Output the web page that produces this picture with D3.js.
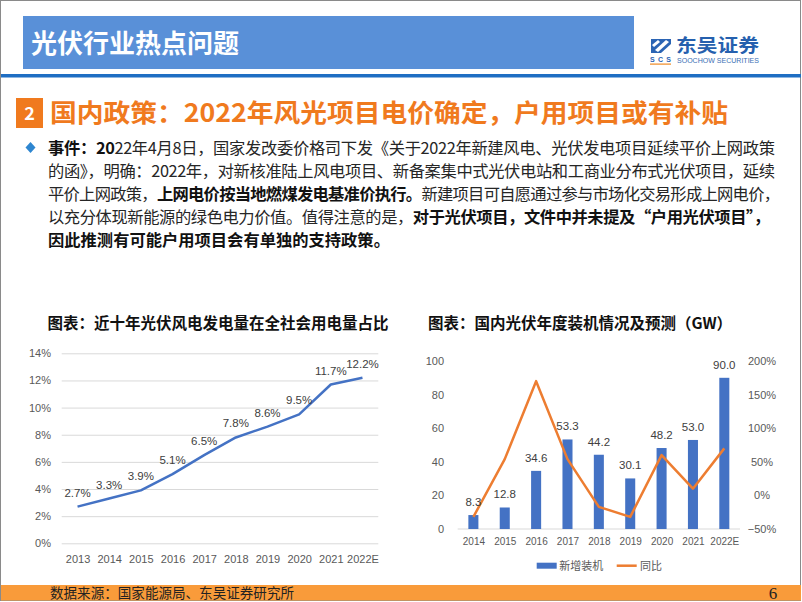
<!DOCTYPE html>
<html><head><meta charset="utf-8">
<script src="https://cdn.jsdelivr.net/npm/d3@7"></script>
<style>
html,body{margin:0;padding:0;background:#fff;}
svg{display:block;font-family:"Noto Sans CJK SC","Noto Sans",sans-serif;}
</style></head>
<body>
<svg id="c" width="802" height="602"></svg>
<script>
// ---------- data ----------
const headerTitle = "光伏行业热点问题";
const sectionNo = "2";
const sectionTitle = "国内政策：2022年风光项目电价确定，户用项目或有补贴";
const bodyLines = [
  [["事件：20", true], ["22年4月8日，国家发改委价格司下发《关于2022年新建风电、光伏发电项目延续平价上网政策", false]],
  [["的函》，明确：2022年，对新核准陆上风电项目、新备案集中式光伏电站和工商业分布式光伏项目，延续", false]],
  [["平价上网政策，", false], ["上网电价按当地燃煤发电基准价执行。", true], ["新建项目可自愿通过参与市场化交易形成上网电价，", false]],
  [["以充分体现新能源的绿色电力价值。值得注意的是，", false], ["对于光伏项目，文件中并未提及“户用光伏项目”，", true]],
  [["因此推测有可能户用项目会有单独的支持政策。", true]]
];
const bodyLineLengths = [727, 727, 732, 722, null];

const leftTitle = "图表：近十年光伏风电发电量在全社会用电量占比";
const leftYears = ["2013","2014","2015","2016","2017","2018","2019","2020","2021","2022E"];
const leftShare = [0.027,0.033,0.039,0.051,0.065,0.078,0.086,0.095,0.117,0.122];
const leftTicks = [0,0.02,0.04,0.06,0.08,0.10,0.12,0.14];

const rightTitle = "图表：国内光伏年度装机情况及预测（GW）";
const rightYears = ["2014","2015","2016","2017","2018","2019","2020","2021","2022E"];
const rightInstall = [8.3,12.8,34.6,53.3,44.2,30.1,48.2,53.0,90.0];
const rightYoY = [-0.32,0.54,1.70,0.54,-0.17,-0.32,0.60,0.10,0.70];
const rightLeftTicks = [0,20,40,60,80,100];
const rightRightTicks = [-0.5,0,0.5,1.0,1.5,2.0];
const legendNames = ["新增装机","同比"];

const sourceText = "数据来源：国家能源局、东吴证券研究所";
const pageNo = "6";

// ---------- drawing ----------
const svg = d3.select("#c");
const BLUE = "#4472C4", ORANGE = "#ED7D31", GRAY = "#595959";

// page border
svg.append("rect").attr("x",0.5).attr("y",0.5).attr("width",800).attr("height",600)
  .attr("fill","#fff").attr("stroke","#8a8a8a").attr("stroke-width",1);

// header
svg.append("rect").attr("x",23).attr("y",16).attr("width",611).attr("height",53).attr("fill","#5990D8");
svg.append("text").attr("x",31).attr("y",53).attr("fill","#fff").attr("font-size",26)
  .attr("font-weight","bold").text(headerTitle);
svg.append("rect").attr("x",1).attr("y",74).attr("width",800).attr("height",3.5).attr("fill","#1F6EC3");

// logo
const logo = svg.append("g");
logo.append("path").attr("d","M651,39 L671,39 L671,44 L661,53 L651,53 Z").attr("fill","#2B64B4");
logo.append("path").attr("d","M655,50 L666,40 L669,42 L658,52 Z").attr("fill","#fff");
logo.append("path").attr("d","M652,45 L658,40 L660,42 L654,47 Z").attr("fill","#fff");
logo.append("text").attr("x",650).attr("y",62).attr("font-size",7).attr("font-weight","bold")
  .attr("fill","#2B64B4").attr("font-family","Liberation Sans, Arial").attr("textLength",21).text("SCS");
logo.append("rect").attr("x",650).attr("y",63.5).attr("width",21).attr("height",1.2).attr("fill","#F08A24");
logo.append("text").attr("x",676).attr("y",51.5).attr("font-size",18).attr("font-weight","bold")
  .attr("fill","#2560AE").attr("textLength",83).attr("lengthAdjust","spacingAndGlyphs").text("东吴证券");
logo.append("text").attr("x",677).attr("y",63).attr("font-size",7).attr("fill","#3A6FB5")
  .attr("font-family","Liberation Sans, Arial").attr("textLength",82).attr("lengthAdjust","spacingAndGlyphs")
  .text("SOOCHOW SECURITIES");

// section title
svg.append("rect").attr("x",16).attr("y",98).attr("width",27).attr("height",30).attr("fill","#F07A1E");
svg.append("text").attr("x",29.5).attr("y",120).attr("text-anchor","middle").attr("fill","#fff")
  .attr("font-size",18).attr("font-weight","bold").text(sectionNo);
svg.append("text").attr("x",50).attr("y",122).attr("fill","#F07A1E").attr("font-size",25.5)
  .attr("font-weight","bold").attr("textLength",678).attr("lengthAdjust","spacingAndGlyphs").text(sectionTitle);

// body text
svg.append("path").attr("d","M30.5,142 L35.5,147.5 L30.5,153 L25.5,147.5 Z").attr("fill","#2E86D0");
bodyLines.forEach((segs,i)=>{
  const t = svg.append("text").attr("x",48).attr("y",154 + i*23).attr("font-size",16.3).attr("fill","#262626");
  if (bodyLineLengths[i]) t.attr("textLength",bodyLineLengths[i]).attr("lengthAdjust","spacing");
  segs.forEach(s=>{
    t.append("tspan").attr("font-weight", s[1] ? "bold" : "normal").attr("fill", s[1] ? "#111" : "#262626").text(s[0]);
  });
});

// ---------- left chart ----------
svg.append("text").attr("x",218).attr("y",329).attr("text-anchor","middle").attr("font-size",15.5)
  .attr("font-weight","bold").attr("fill","#111").text(leftTitle);

const xL = d3.scalePoint().domain(leftYears).range([61.7,378.3]).padding(0.5);
const yL = d3.scaleLinear().domain([0,0.14]).range([543.3,353.3]);

const gyL = svg.append("g").attr("transform","translate(61.7,0)")
  .call(d3.axisLeft(yL).tickValues(leftTicks).tickFormat(d3.format(".0%")).tickSize(-(378.3-61.7)).tickPadding(10.7));
gyL.select(".domain").remove();
gyL.selectAll("line").attr("stroke","#D9D9D9").attr("stroke-width",1);
gyL.selectAll("text").attr("fill",GRAY).attr("font-size",11).attr("font-family","Liberation Sans, Arial");

const gxL = svg.append("g").attr("transform","translate(0,543.3)")
  .call(d3.axisBottom(xL).tickSize(0));
gxL.select(".domain").remove();
gxL.selectAll("text").attr("y",16).attr("dy","0.35em").attr("fill",GRAY).attr("font-size",11)
  .attr("font-family","Liberation Sans, Arial");

const lineL = d3.line().x((d,i)=>xL(leftYears[i])).y(d=>yL(d));
svg.append("path").datum(leftShare).attr("d",lineL).attr("fill","none").attr("stroke",BLUE)
  .attr("stroke-width",2.5).attr("stroke-linejoin","round");
svg.append("g").selectAll("text").data(leftShare).join("text")
  .attr("x",(d,i)=>xL(leftYears[i])).attr("y",d=>yL(d)-10).attr("text-anchor","middle")
  .attr("font-size",11.5).attr("fill","#404040").attr("font-family","Liberation Sans, Arial")
  .text(d=>d3.format(".1%")(d));

// ---------- right chart ----------
svg.append("text").attr("x",580).attr("y",329).attr("text-anchor","middle").attr("font-size",15.5)
  .attr("font-weight","bold").attr("fill","#111").text(rightTitle);

const xR = d3.scalePoint().domain(rightYears).range([457.7,740]).padding(0.5);
const yR = d3.scaleLinear().domain([0,100]).range([529,361]);
const yR2 = d3.scaleLinear().domain([-0.5,2]).range([529,361]);
const barW = xR.step()*0.32;

const gyR = svg.append("g").attr("transform","translate(457.7,0)")
  .call(d3.axisLeft(yR).tickValues(rightLeftTicks).tickSize(0).tickPadding(13.7));
gyR.select(".domain").remove();
gyR.selectAll("text").attr("fill",GRAY).attr("font-size",11).attr("font-family","Liberation Sans, Arial");

const gyR2 = svg.append("g").attr("transform","translate(740,0)")
  .call(d3.axisRight(yR2).tickValues(rightRightTicks).tickFormat(d3.format(".0%")).tickSize(0));
gyR2.select(".domain").remove();
gyR2.selectAll("text").attr("x",22).attr("text-anchor","middle").attr("fill",GRAY).attr("font-size",11)
  .attr("font-family","Liberation Sans, Arial");

svg.append("line").attr("x1",457.7).attr("x2",740).attr("y1",yR(0)).attr("y2",yR(0))
  .attr("stroke","#D9D9D9").attr("stroke-width",1);

const gxR = svg.append("g").attr("transform","translate(0,529)").call(d3.axisBottom(xR).tickSize(0));
gxR.select(".domain").remove();
gxR.selectAll("text").attr("y",12.7).attr("dy","0.35em").attr("fill",GRAY).attr("font-size",10)
  .attr("font-family","Liberation Sans, Arial");

svg.append("g").selectAll("rect").data(rightInstall).join("rect")
  .attr("x",(d,i)=>xR(rightYears[i])-barW/2).attr("width",barW)
  .attr("y",d=>yR(d)).attr("height",d=>yR(0)-yR(d)).attr("fill",BLUE);

const lineR = d3.line().x((d,i)=>xR(rightYears[i])).y(d=>yR2(d));
svg.append("path").datum(rightYoY).attr("d",lineR).attr("fill","none").attr("stroke",ORANGE)
  .attr("stroke-width",2.5).attr("stroke-linejoin","round");

svg.append("g").selectAll("text").data(rightInstall).join("text")
  .attr("x",(d,i)=>xR(rightYears[i])).attr("y",d=>yR(d)-9).attr("text-anchor","middle")
  .attr("font-size",11.5).attr("fill","#404040").attr("font-family","Liberation Sans, Arial")
  .text(d=>d3.format(".1f")(d));

// legend
svg.append("rect").attr("x",536.7).attr("y",562.7).attr("width",20).attr("height",6).attr("fill",BLUE);
svg.append("text").attr("x",559.3).attr("y",565.7).attr("dy","0.35em").attr("font-size",11).attr("fill",GRAY).text(legendNames[0]);
svg.append("line").attr("x1",616.7).attr("x2",636.7).attr("y1",565.7).attr("y2",565.7).attr("stroke",ORANGE).attr("stroke-width",2.5);
svg.append("text").attr("x",640).attr("y",565.7).attr("dy","0.35em").attr("font-size",11).attr("fill",GRAY).text(legendNames[1]);

// footer
svg.append("rect").attr("x",1).attr("y",585).attr("width",800).attr("height",15.5).attr("fill","#F99B3A");
svg.append("text").attr("x",50).attr("y",598).attr("font-size",13.5).attr("fill","#222")
  .attr("textLength",244).attr("lengthAdjust","spacingAndGlyphs").text(sourceText);
svg.append("text").attr("x",773).attr("y",599).attr("text-anchor","middle").attr("font-size",17)
  .attr("font-family","Liberation Serif, serif").attr("fill","#222").text(pageNo);
</script>
</body></html>
